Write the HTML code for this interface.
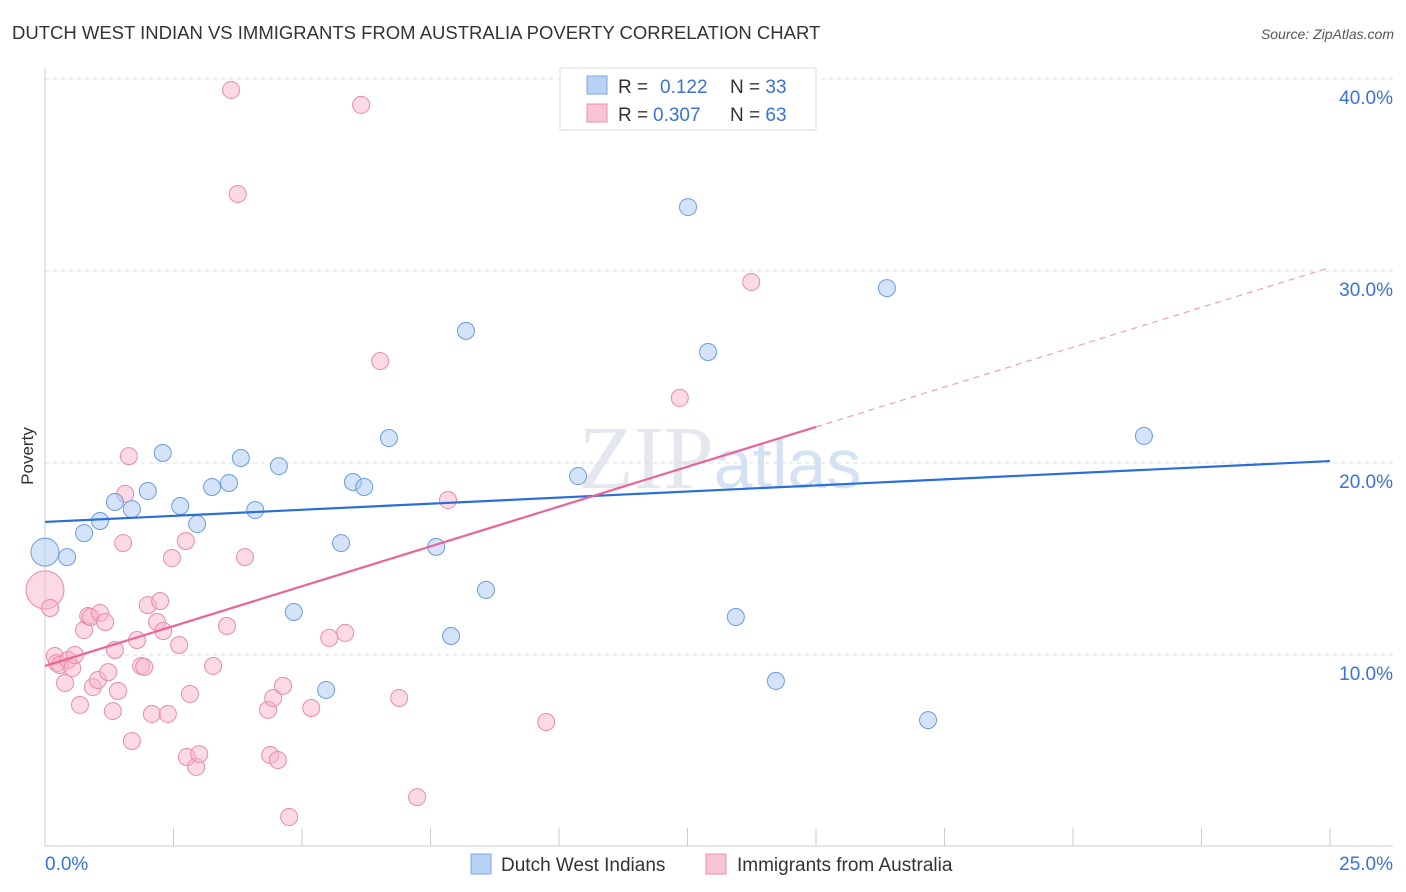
<!DOCTYPE html>
<html><head><meta charset="utf-8"><style>
body{margin:0;background:#fff;font-family:"Liberation Sans",sans-serif}
svg{display:block}
</style></head><body>
<svg width="1406" height="892" xmlns="http://www.w3.org/2000/svg">
<text x="12" y="39" font-size="18.5" fill="#333">DUTCH WEST INDIAN VS IMMIGRANTS FROM AUSTRALIA POVERTY CORRELATION CHART</text>
<text x="1394" y="39" font-size="14" fill="#555" font-style="italic" text-anchor="end">Source: ZipAtlas.com</text>
<text x="720" y="488" font-size="90" fill="#e4e8ee" text-anchor="middle" font-family="Liberation Serif,serif">ZIP<tspan fill="#d4e2f4" font-family="Liberation Sans,sans-serif" font-size="70">atlas</tspan></text>
<g id="grid"></g>
<g id="axes"></g>
<text transform="translate(33,456) rotate(-90)" font-size="17" fill="#333" text-anchor="middle">Poverty</text>
<g id="marks"></g>
<g>
<rect x="560" y="68" width="256" height="62" fill="#fff" stroke="#ddd"/>
<rect x="587" y="76" width="20" height="18" fill="#b8d2f3" stroke="#7aa6e0"/>
<text x="618" y="93" font-size="19" fill="#333">R = <tspan fill="#3a72d8" x="660">0.122</tspan><tspan x="730">N = </tspan><tspan fill="#3a72d8">33</tspan></text>
<rect x="587" y="104" width="20" height="18" fill="#f8c4d4" stroke="#e890ad"/>
<text x="618" y="121" font-size="19" fill="#333">R = <tspan fill="#3a72d8" x="653">0.307</tspan><tspan x="730">N = </tspan><tspan fill="#3a72d8">63</tspan></text>
</g>
<g>
<rect x="471" y="854" width="20" height="20" fill="#b8d2f3" stroke="#7aa6e0"/>
<text x="501" y="871" font-size="19" fill="#333">Dutch West Indians</text>
<rect x="706" y="854" width="20" height="20" fill="#f8c4d4" stroke="#e890ad"/>
<text x="737" y="871" font-size="19" fill="#333">Immigrants from Australia</text>
</g>
</svg>
<script>
const yTicks=[10,20,30,40];
const yTickLabels=["10.0%","20.0%","30.0%","40.0%"];
const xTickLabels=["0.0%","25.0%"];
const blueX=[0,0.43,0.76,1.07,1.36,1.69,2.0,2.29,2.63,2.96,3.25,3.58,3.81,4.09,4.55,4.84,5.47,5.76,5.99,6.21,6.69,7.61,7.9,8.19,8.58,10.37,12.51,12.9,13.44,14.22,16.38,17.18,21.38];
const blueY=[15.36,15.1,16.35,16.98,17.97,17.6,18.54,20.52,17.76,16.82,18.75,18.96,20.26,17.55,19.84,12.24,8.18,15.83,19.01,18.75,21.3,15.63,10.99,26.88,13.39,19.32,33.33,25.78,11.98,8.65,29.11,6.61,21.41];
const pinkX=[0,0.1,0.19,0.23,0.29,0.39,0.45,0.53,0.58,0.68,0.76,0.84,0.89,0.93,1.03,1.07,1.17,1.23,1.32,1.36,1.42,1.52,1.56,1.63,1.69,1.79,1.87,1.93,2.0,2.08,2.18,2.24,2.3,2.39,2.47,2.61,2.74,2.76,2.82,2.94,3.0,3.27,3.54,3.62,3.75,3.89,4.34,4.38,4.44,4.53,4.63,4.75,5.18,5.53,5.84,6.15,6.52,6.89,7.24,7.84,9.75,12.35,13.74];
const pinkY=[13.39,12.45,9.95,9.58,9.48,8.54,9.74,9.32,10.0,7.4,11.3,12.03,11.98,8.33,8.7,12.19,11.72,9.11,7.08,10.26,8.13,15.83,18.39,20.36,5.52,10.78,9.43,9.38,12.6,6.93,11.72,12.81,11.25,6.93,15.05,10.52,15.94,4.69,7.97,4.17,4.84,9.43,11.51,39.43,34.01,15.1,7.14,4.79,7.76,4.53,8.39,1.56,7.24,10.89,11.15,38.65,25.31,7.76,2.6,18.07,6.51,23.39,29.43];
const blueLine=[16.93,20.1];
const pinkLine=[9.43,30.18];
const pinkSolidEnd=15;
const NS="http://www.w3.org/2000/svg";
const X=v=>45+v/25*1285, Y=v=>847-v*19.2;
function mk(t,a,p){const e=document.createElementNS(NS,t);for(const k in a)e.setAttribute(k,a[k]);p.appendChild(e);return e;}
const grid=document.getElementById('grid'),axes=document.getElementById('axes'),marks=document.getElementById('marks');
yTicks.forEach((t,i)=>{
 const l=mk('line',{x1:45,x2:1393,y1:Y(t),y2:Y(t),stroke:'#ddd','stroke-dasharray':'4,4'},grid);
 
 
 const tx=mk('text',{x:1393,y:Y(t)+25,'font-size':19,fill:'#3a72d8','text-anchor':'end'},axes);
 tx.textContent=yTickLabels[i];
 
 
});
mk('line',{x1:45,x2:45,y1:68,y2:846,stroke:'#ccc'},axes);
mk('line',{x1:45,x2:1393,y1:846,y2:846,stroke:'#ccc'},axes);
for(let i=0;i<=10;i++){const e=mk('line',{x1:X(i*2.5),x2:X(i*2.5),y1:828,y2:846,stroke:'#ccc'},axes);
 
 }
const xl0=mk('text',{x:45,y:870,'font-size':19,fill:'#3a72d8'},axes);xl0.textContent=xTickLabels[0];


const xl1=mk('text',{x:1393,y:870,'font-size':19,fill:'#3a72d8','text-anchor':'end'},axes);xl1.textContent=xTickLabels[1];


function pts(xs,ys,fill,stroke,name){xs.forEach((x,i)=>{const r=(i===0)?(name==='pink-point'?19:14):8.5;
 const c=mk('circle',{cx:X(x),cy:Y(ys[i]),r:r,fill:fill,'fill-opacity':0.5,stroke:stroke,'stroke-width':1},marks);
 
 });}
pts(pinkX,pinkY,'#f7b6ca','#e98aaa','pink-point');
pts(blueX,blueY,'#a9c8f0','#6a9cdf','blue-point');
const bl=mk('line',{x1:X(0),y1:Y(blueLine[0]),x2:X(25),y2:Y(blueLine[1]),stroke:'#2a6fd6','stroke-width':2.2},marks);


const pm=pinkLine[0]+(pinkLine[1]-pinkLine[0])*pinkSolidEnd/25;
const pl=mk('line',{x1:X(0),y1:Y(pinkLine[0]),x2:X(pinkSolidEnd),y2:Y(pm),stroke:'#e8659a','stroke-width':2.2},marks);


const pd=mk('line',{x1:X(pinkSolidEnd),y1:Y(pm),x2:X(25),y2:Y(pinkLine[1]),stroke:'#e8a0bb','stroke-width':1.2,'stroke-dasharray':'6,5'},marks);


</script>
</body></html>
